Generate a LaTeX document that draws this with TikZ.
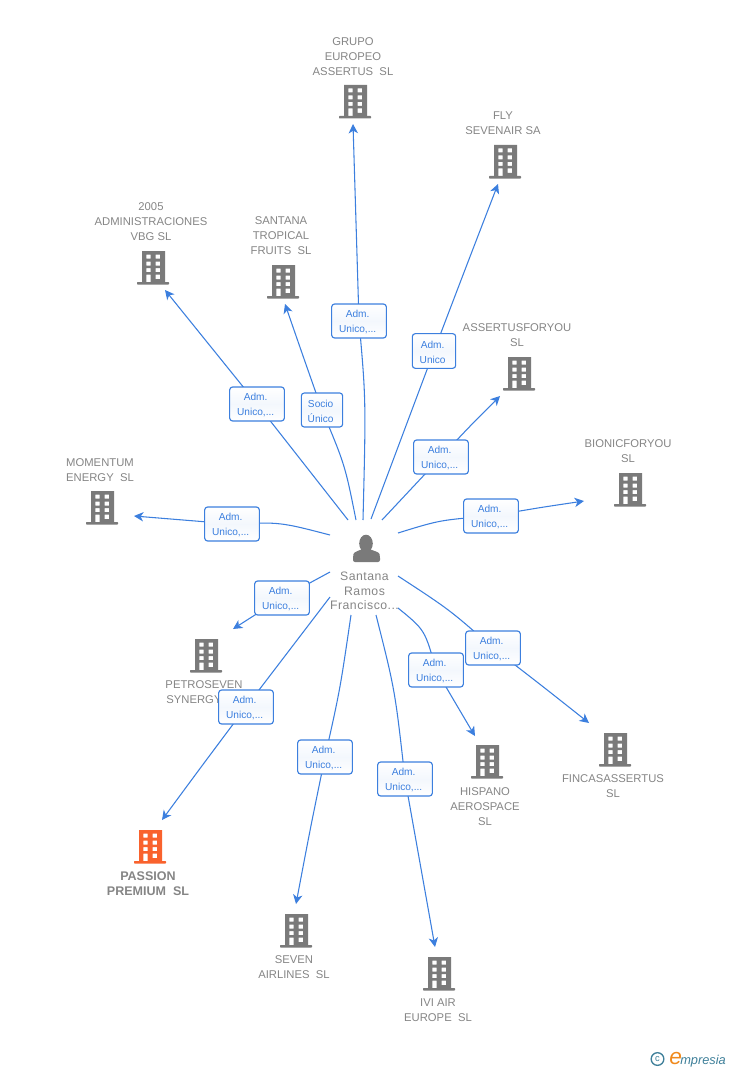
\documentclass[tikz,border=0pt]{standalone}
\usepackage{fontspec}
\setmainfont{Liberation Sans}
\usetikzlibrary{arrows.meta,calc}
\definecolor{lk}{HTML}{3C7FDE}
\definecolor{gr}{HTML}{7A7A7A}
\definecolor{txt}{HTML}{858585}
\definecolor{org}{HTML}{F9622D}
\definecolor{teal}{HTML}{3E7F99}
\definecolor{lgo}{HTML}{F08A1D}
\tikzset{
  x=0.75pt,y=-0.75pt,
  link/.style={draw=lk,line width=0.8pt,line join=round},
  linkend/.style={-{Stealth[length=7pt,width=7pt,inset=2pt]}},
  lab/.style={draw=lk,line width=0.85pt,rounded corners=2.2pt,minimum width=41pt,minimum height=25.5pt,inner sep=0pt,
    top color=white,bottom color=white,middle color=lk!6,align=center,text=lk,
    font=\fontsize{7.6}{11.25}\selectfont},
  co/.style={align=center,text=txt,inner sep=0pt,font=\fontsize{8.45}{11.25}\selectfont},
  coB/.style={align=center,text=txt,inner sep=0pt,font=\fontsize{9.4}{11.25}\selectfont\bfseries},
  ic/.style={inner sep=0pt,minimum width=24pt,minimum height=25pt},
}
\newcommand\lb[2]{\rule{0pt}{7pt}#1\hspace*{2pt}\\#2\hspace*{2pt}}
\newcommand\bldg[2]{%
  \begin{scope}[shift={(#1)}]
    \fill[#2,even odd rule] (-11,-16.5) rectangle (12,15)
      (-6.7,-13) rectangle (-2.3,-9) (2.5,-13) rectangle (7,-9)
      (-6.7,-6) rectangle (-2.3,-2) (2.5,-6) rectangle (7,-2)
      (-6.7,0.5) rectangle (-2.3,4.5) (2.5,0.5) rectangle (7,4.5)
      (-6.7,7) rectangle (-2.3,15) (2.5,7) rectangle (7,11.5);
    \fill[#2,rounded corners=0.5pt] (-16,14.5) rectangle (16,17);
  \end{scope}}
\newcommand\lnk[5]{% start, ctrl, label, ctrl, end-coordinate
  \draw[link] (#1) .. controls (#2) .. (#3);
  \draw[link,linkend] (#3) .. controls (#4) .. (#5);}
\begin{document}
\begin{tikzpicture}
\useasboundingbox (0,0) rectangle (728,1070);
% icons
\node[ic] (igrupo) at (355,101.5) {}; \bldg{355,101.5}{gr}
\node[ic] (ifly) at (505,161.5) {}; \bldg{505,161.5}{gr}
\node[ic] (iass) at (519,373.5) {}; \bldg{519,373.5}{gr}
\node[ic] (ibio) at (630,489.5) {}; \bldg{630,489.5}{gr}
\node[ic] (i2005) at (153,267.5) {}; \bldg{153,267.5}{gr}
\node[ic] (isan) at (283,281.5) {}; \bldg{283,281.5}{gr}
\node[ic] (imom) at (102,507.5) {}; \bldg{102,507.5}{gr}
\node[ic] (ipet) at (206,655.5) {}; \bldg{206,655.5}{gr}
\node[ic] (ipas) at (150,846.5) {}; \bldg{150,846.5}{org}
\node[ic] (isev) at (296,930.5) {}; \bldg{296,930.5}{gr}
\node[ic] (iivi) at (439,973.5) {}; \bldg{439,973.5}{gr}
\node[ic] (ihis) at (487,761.5) {}; \bldg{487,761.5}{gr}
\node[ic] (ifin) at (615,749.5) {}; \bldg{615,749.5}{gr}
% texts
\node[co] (tgrupo) at (353,57) {GRUPO\\EUROPEO\\ASSERTUS\ \ SL};
\node[co] (tfly) at (503,123.5) {FLY\\SEVENAIR SA};
\node[co] (t2005) at (151,222) {2005\\ADMINISTRACIONES\\VBG SL};
\node[co] (tsan) at (281,236) {SANTANA\\TROPICAL\\FRUITS\ \ SL};
\node[co] (tass) at (517,335.5) {ASSERTUSFORYOU\\SL};
\node[co] (tbio) at (628,451.5) {BIONICFORYOU\\SL};
\node[co] (tmom) at (100,470.5) {MOMENTUM\\ENERGY\ \ SL};
\node[co] (tpet) at (204,692.5) {PETROSEVEN\\SYNERGY\phantom{\ \ SL}};
\node[coB] (tpas) at (148,883.5) {PASSION\\PREMIUM\ \ SL};
\node[co] (tsev) at (294,967.5) {SEVEN\\AIRLINES\ \ SL};
\node[co] (tivi) at (438,1010.5) {IVI AIR\\EUROPE\ \ SL};
\node[co] (this) at (485,807) {HISPANO\\AEROSPACE\\SL};
\node[co] (tfin) at (613,786.5) {FINCASASSERTUS\\SL};
% person
\node[inner sep=0pt,minimum width=21pt,minimum height=22pt] (per) at (366,548) {};
\fill[gr] (366,543.5) ellipse (6.8 and 8.8);
\fill[gr,rounded corners=1.5pt] (353,562) -- (353,556) .. controls (354,552) and (358,551) .. (362,549) -- (370,549) .. controls (374,551) and (379,552) .. (380,556) -- (380,562) -- cycle;
\node[align=center,text=txt,inner sep=0pt,font=\fontsize{9.2}{10.9}\selectfont\addfontfeatures{LetterSpace=4}] (tper) at (364.5,591) {Santana\\Ramos\\Francisco...};
% connector ends
\coordinate (s1) at (363,520); \coordinate (e1) at (353,124);
\coordinate (s2) at (371,519); \coordinate (e2) at (498,184);
\coordinate (s3) at (382,520); \coordinate (e3) at (500,396);
\coordinate (s4) at (398,533); \coordinate (e4) at (584,501);
\coordinate (s5) at (330,535); \coordinate (e5) at (134,516);
\coordinate (s6) at (330,572); \coordinate (e6) at (233,629);
\coordinate (s7) at (330,597); \coordinate (e7) at (162,820);
\coordinate (s8) at (351,615); \coordinate (e8) at (296,904);
\coordinate (s9) at (376,615); \coordinate (e9) at (435,947);
\coordinate (s10) at (398,608); \coordinate (e10) at (475,736);
\coordinate (s11) at (398,576); \coordinate (e11) at (589,723);
\coordinate (s12) at (348,520); \coordinate (e12) at (165,290);
\coordinate (s13) at (356,520); \coordinate (e13) at (285,304);
% label positions
\path (359,321) coordinate (l1) (434,351) coordinate (l2) (441,457) coordinate (l3)
  (491,516) coordinate (l4) (232,524) coordinate (l5) (282,598) coordinate (l6)
  (246,707) coordinate (l7) (325,757) coordinate (l8) (405,779) coordinate (l9)
  (436,670) coordinate (l10) (493,648) coordinate (l11) (257,404) coordinate (l12)
  (322,410) coordinate (l13);
\lnk{s1}{366,400}{l1}{356,222}{e1}
\lnk{s2}{402,435}{l2}{466,267}{e2}
\lnk{s3}{411,488}{l3}{470,426}{e3}
\lnk{s4}{440,520}{l4}{537,508}{e4}
\lnk{s5}{280,522}{l5}{183,520}{e5}
\lnk{s6}{306,585}{l6}{258,613}{e6}
\lnk{s7}{288,652}{l7}{204,763}{e7}
\lnk{s8}{340,690}{l8}{310,830}{e8}
\lnk{s9}{395,690}{l9}{420,863}{e9}
\lnk{s10}{425,630}{l10}{453,700}{e10}
\lnk{s11}{450,610}{l11}{541,685}{e11}
\lnk{s12}{302,462}{l12}{211,347}{e12}
\lnk{s13}{345,465}{l13}{303,356}{e13}
\node[lab] (b1) at (l1) {\lb{Adm.}{Unico,...}};
\node[lab,minimum width=32.5pt,minimum height=26pt] (b2) at (l2) {\lb{Adm.}{Unico}};
\node[lab] (b3) at (l3) {\lb{Adm.}{Unico,...}};
\node[lab] (b4) at (l4) {\lb{Adm.}{Unico,...}};
\node[lab] (b5) at (l5) {\lb{Adm.}{Unico,...}};
\node[lab] (b6) at (l6) {\lb{Adm.}{Unico,...}};
\node[lab] (b7) at (l7) {\lb{Adm.}{Unico,...}};
\node[lab] (b8) at (l8) {\lb{Adm.}{Unico,...}};
\node[lab] (b9) at (l9) {\lb{Adm.}{Unico,...}};
\node[lab] (b10) at (l10) {\lb{Adm.}{Unico,...}};
\node[lab] (b11) at (l11) {\lb{Adm.}{Unico,...}};
\node[lab] (b12) at (l12) {\lb{Adm.}{Unico,...}};
\node[lab,minimum width=31pt] (b13) at (l13) {\lb{Socio}{Único}};
% logo
\node[circle,draw=teal,line width=1pt,text=teal,inner sep=0pt,minimum size=9.5pt,font=\fontsize{7}{8}\selectfont] (lc) at (657.5,1059) {c};
\node[text=lgo,inner sep=0pt,anchor=base west,font=\fontsize{17}{17}\selectfont\itshape] (le) at (669,1064) {e};
\node[text=teal,inner sep=0pt,anchor=base west,font=\fontsize{9.6}{10}\selectfont\itshape] (lm) at (680,1064) {mpresia};
\end{tikzpicture}
\end{document}
